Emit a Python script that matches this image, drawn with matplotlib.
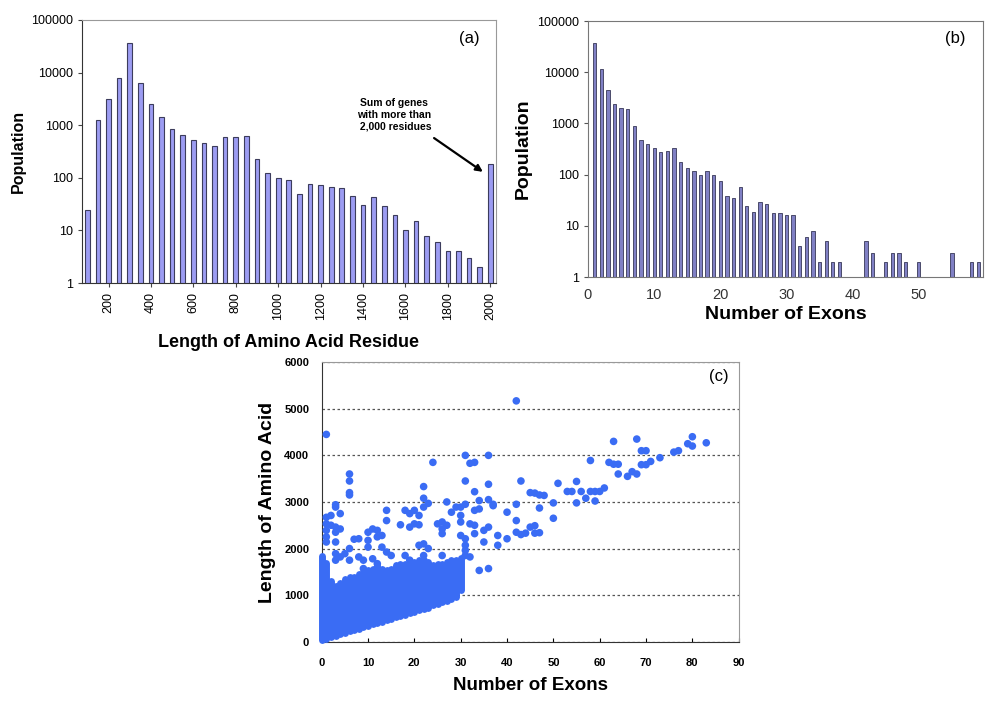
import matplotlib
matplotlib.use("Agg")
import matplotlib.pyplot as plt
from matplotlib.ticker import NullLocator

plt.rcParams['font.family'] = ['Liberation Sans', 'DejaVu Sans']

# (a) protein length histogram, bins of 50 residues (last bin = sum of >2000)
len_bins = [100, 150, 200, 250, 300, 350, 400, 450, 500, 550, 600, 650, 700,
            750, 800, 850, 900, 950, 1000, 1050, 1100, 1150, 1200, 1250, 1300,
            1350, 1400, 1450, 1500, 1550, 1600, 1650, 1700, 1750, 1800, 1850,
            1900, 1950, 2000]
len_counts = [25, 1260, 3100, 7900, 36000, 6450, 2500, 1450, 840, 650, 520,
              460, 400, 600, 590, 620, 232, 124, 98, 89, 50, 77, 74, 66, 63,
              46, 30, 44, 29, 20, 10, 15, 8, 6, 4, 4, 3, 2, 180]
len_ticks = [200, 400, 600, 800, 1000, 1200, 1400, 1600, 1800, 2000]

# (b) exon count histogram
exon_bins = list(range(1, 60))
exon_counts = [37500, 11700, 4450, 2400, 2040, 1920, 880, 475, 405, 325, 282,
               287, 332, 180, 135, 118, 97, 120, 100, 76, 38, 35, 57, 24, 19,
               29, 27, 18, 18, 16, 16, 4, 6, 8, 2, 5, 2, 2, 1, 1, 1, 5, 3, 1,
               2, 3, 3, 2, 1, 2, 1, 1, 1, 1, 3, 1, 1, 2, 2]
exon_ticks = [0, 10, 20, 30, 40, 50]
pop_ticks = [1, 10, 100, 1000, 10000, 100000]

# (c) dense core: per exon count, range of lengths covered by points
core_exons = list(range(0, 31))
core_low = [30, 60, 100, 130, 160, 190, 220, 250, 280, 310, 340, 370, 400,
            430, 460, 490, 520, 550, 580, 610, 640, 670, 700, 730, 790, 820,
            850, 880, 910, 950, 1100]
core_high = [1850, 1700, 1300, 1200, 1250, 1350, 1390, 1390, 1460, 1500, 1530,
             1570, 1640, 1570, 1530, 1570, 1640, 1675, 1675, 1710, 1710, 1750,
             1750, 1710, 1640, 1675, 1675, 1710, 1750, 1750, 1800]

# (c) scattered genes outside the dense core
sc_exons = [1, 42, 6, 6, 6, 6, 24, 22, 22, 23, 27, 31, 32, 33, 36, 31, 36, 33,
            34, 36, 31, 43, 42, 45, 3, 37, 63, 68, 69, 70, 80, 79, 80, 83, 76,
            77, 73, 69, 70, 71, 62, 63, 64, 64, 66, 67, 68, 58, 55, 51, 53, 54,
            56, 58, 59, 60, 61, 57, 59, 55, 50, 46, 47, 48, 43, 44, 45, 46, 46,
            47, 47, 50,
            4, 2, 1, 14, 18, 19, 21, 14, 17, 19, 21, 1, 2, 3, 1, 3, 4, 1, 3, 1,
            8, 10, 11, 12, 13, 12, 10, 7, 6, 10, 13, 14, 15, 18, 19, 3, 5, 4,
            8, 3, 6, 9, 11, 12, 9, 3, 20, 20,
            22, 30, 40, 37, 33, 30, 30, 28, 25, 26, 26, 26, 32, 36, 35, 35, 38,
            38, 40, 42, 42, 33, 30, 31, 22, 23, 21, 31, 31, 31, 32, 34, 36, 26,
            22, 27, 29, 34, 33]
sc_lengths = [4450, 5170, 3600, 3450, 3200, 3150, 3850, 3330, 3080, 2970, 3000,
              4000, 3830, 3850, 4000, 3450, 3380, 3220, 3030, 3050, 2950, 3450,
              2950, 3200, 2940, 2950, 4300, 4350, 4100, 4100, 4400, 4250, 4200,
              4270, 4070, 4100, 3950, 3800, 3800, 3870, 3850, 3810, 3810, 3600,
              3550, 3650, 3600, 3890, 3440, 3400, 3225, 3225, 3225, 3225, 3225,
              3225, 3300, 3080, 3020, 2980, 2980, 3190, 3150, 3140, 2300, 2330,
              2460, 2490, 2330, 2340, 2870, 2650,
              2750, 2710, 2670, 2820, 2820, 2750, 2710, 2600, 2510, 2460, 2510,
              2530, 2500, 2460, 2390, 2350, 2420, 2250, 2140, 2140, 2210, 2350,
              2420, 2390, 2280, 2250, 2175, 2200, 2000, 2030, 2030, 1925, 1850,
              1850, 1750, 1890, 1890, 1820, 1820, 1750, 1750, 1750, 1780, 1675,
              1570, 2890, 2530, 2820,
              2890, 2890, 2780, 2920, 2820, 2710, 2570, 2780, 2530, 2570, 2420,
              2320, 2530, 2460, 2390, 2140, 2280, 2070, 2210, 2600, 2350, 2320,
              2280, 2210, 2100, 2000, 2070, 2070, 1960, 1850, 1820, 1530, 1570,
              1850, 1850, 2500, 2890, 2850, 2500]
len_yticks = [0, 1000, 2000, 3000, 4000, 5000, 6000]
exon_xticks = [0, 10, 20, 30, 40, 50, 60, 70, 80, 90]

fig = plt.figure(figsize=(10, 7.13), dpi=100)

# ---------------- panel (a) ----------------
ax1 = fig.add_axes([0.082, 0.603, 0.414, 0.369])
ax1.bar(len_bins, len_counts, width=22, color='#9c9cf2', edgecolor='#3c3c5c',
        linewidth=0.8)
ax1.set_yscale('log')
ax1.set_ylim(1, 100000)
ax1.set_xlim(75, 2027)
ax1.set_yticks(pop_ticks)
ax1.set_yticklabels([str(v) for v in pop_ticks], fontsize=9)
ax1.yaxis.set_minor_locator(NullLocator())
ax1.set_xticks(len_ticks)
ax1.set_xticklabels([str(v) for v in len_ticks], rotation=90, fontsize=9)
ax1.tick_params(length=3, color='#444444')
ax1.set_ylabel('Population', fontsize=11.5, fontweight='bold', labelpad=4)
ax1.set_xlabel('Length of Amino Acid Residue', fontsize=13, fontweight='bold',
               labelpad=10)
for s in ['top', 'right']:
    ax1.spines[s].set_color('#999999')
for s in ['left', 'bottom']:
    ax1.spines[s].set_color('#333333')
ax1.text(0.96, 0.93, '(a)', transform=ax1.transAxes, ha='right', va='center',
         fontsize=12)
ax1.text(1545, 1560, 'Sum of genes\nwith more than\n 2,000 residues',
         ha='center', va='center', fontsize=7.5, fontweight='bold')
ax1.annotate('', xy=(1965, 130), xytext=(1735, 570),
             arrowprops=dict(arrowstyle='-|>', color='black', lw=1.6,
                             shrinkA=0, shrinkB=0, mutation_scale=10))

# ---------------- panel (b) ----------------
ax2 = fig.add_axes([0.588, 0.6115, 0.395, 0.359])
ax2.bar(exon_bins, exon_counts, width=0.5, color='#8080c4', edgecolor='#4a4a6a',
        linewidth=0.7)
ax2.set_yscale('log')
ax2.set_ylim(1, 100000)
ax2.set_xlim(0, 59.7)
ax2.set_yticks(pop_ticks)
ax2.set_yticklabels([str(v) for v in pop_ticks], fontsize=9)
ax2.yaxis.set_minor_locator(NullLocator())
ax2.set_xticks(exon_ticks)
ax2.set_xticklabels([str(v) for v in exon_ticks], fontsize=10.5, color='#333333')
ax2.tick_params(axis='x', length=0, pad=8)
ax2.tick_params(axis='y', length=3, color='#555555')
ax2.set_ylabel('Population', fontsize=14, fontweight='bold', labelpad=4)
ax2.set_xlabel('Number of Exons', fontsize=14, fontweight='bold', labelpad=3)
for s in ax2.spines.values():
    s.set_color('#777777')
ax2.text(0.955, 0.93, '(b)', transform=ax2.transAxes, ha='right', va='center',
         fontsize=12)

# ---------------- panel (c) ----------------
ax3 = fig.add_axes([0.3217, 0.1, 0.417, 0.392])
core = ax3.vlines(core_exons, core_low, core_high, colors='#3a6cf4',
                  linewidth=5, clip_on=False, zorder=3)
core.set_capstyle('round')
ax3.scatter(sc_exons, sc_lengths, s=30, color='#3a6cf4', edgecolors='none',
            clip_on=False, zorder=3)
ax3.set_xlim(0, 90)
ax3.set_ylim(0, 6000)
ax3.set_yticks(len_yticks)
ax3.set_xticks(exon_xticks)
ax3.set_yticklabels([str(v) for v in len_yticks], fontsize=8, fontweight='bold')
ax3.set_xticklabels([str(v) for v in exon_xticks], fontsize=8, fontweight='bold')
ax3.tick_params(axis='x', direction='in', length=3, pad=12)
ax3.tick_params(axis='y', length=0, pad=9)
ax3.yaxis.grid(True, linestyle=(0, (2, 2)), color='#555555', linewidth=0.9)
ax3.set_axisbelow(True)
ax3.set_ylabel('Length of Amino Acid', fontsize=14, fontweight='bold', labelpad=6)
ax3.set_xlabel('Number of Exons', fontsize=13.5, fontweight='bold', labelpad=6)
for s in ['top', 'right']:
    ax3.spines[s].set_color('#999999')
for s in ['left', 'bottom']:
    ax3.spines[s].set_color('#333333')
ax3.text(0.975, 0.95, '(c)', transform=ax3.transAxes, ha='right', va='center',
         fontsize=12)

fig.savefig('out.png', dpi=100)
